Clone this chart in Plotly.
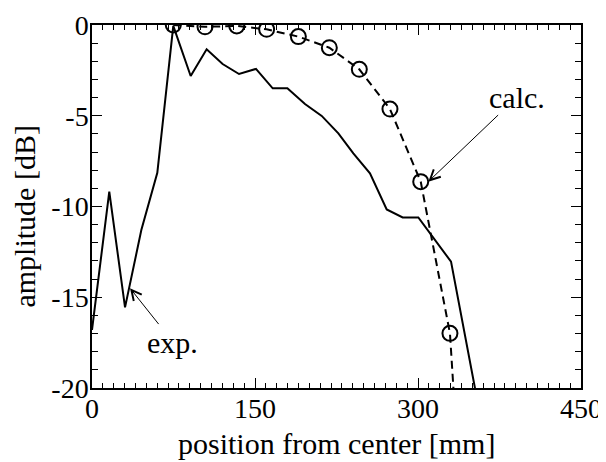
import plotly.graph_objects as go

# experimental data (solid line)
exp_x = [0, 15.9, 30.4, 45.4, 60.1, 74.8, 90.8, 105.5, 120.2, 135.3, 150.9, 166.3, 179.8,
         196.0, 211.4, 226.7, 240.5, 255.8, 271.2, 285.9, 300.3, 315.4, 330.4, 360.0]
exp_y = [-16.8, -9.18, -15.56, -11.3, -8.14, -0.05, -2.81, -1.34, -2.15, -2.7, -2.42, -3.49, -3.49,
         -4.35, -5.01, -5.97, -7.07, -8.17, -10.16, -10.6, -10.6, -11.82, -13.04, -22.4]

# calculated data (dashed line with open circles)
calc_x = [74.8, 104.0, 133.2, 160.7, 189.9, 218.4, 246.0, 274.2, 302.5, 329.4, 358.0]
calc_y = [0.0, -0.1, -0.05, -0.24, -0.64, -1.25, -2.44, -4.63, -8.63, -16.99, -44.0]

x_ticks = [0, 150, 300, 450]
x_labels = ["0", "150", "300", "450"]
y_ticks = [-20, -15, -10, -5, 0]
y_labels = ["-20", "-15", "-10", "-5", "0"]

FONT = "Liberation Serif"

fig = go.Figure()
fig.add_trace(go.Scatter(x=exp_x, y=exp_y, mode="lines",
                         line=dict(color="black", width=2), showlegend=False))
fig.add_trace(go.Scatter(x=calc_x, y=calc_y, mode="lines+markers",
                         line=dict(color="black", width=2, dash="8px,5px"),
                         marker=dict(symbol="circle-open", size=15, color="black",
                                     line=dict(width=2, color="black")),
                         showlegend=False))

axis_common = dict(showline=True, linecolor="black", linewidth=1.5, mirror="allticks",
                   ticks="inside", ticklen=10, tickwidth=1.2, tickcolor="black",
                   showgrid=False, zeroline=False, automargin=False,
                   tickfont=dict(family=FONT, size=28, color="black"))

fig.update_xaxes(range=[0, 450], tickvals=x_ticks, ticktext=x_labels, ticklabelstandoff=-5,
                 minor=dict(dtick=10, ticks="inside", ticklen=5, tickwidth=1, tickcolor="black"),
                 **axis_common)
fig.update_yaxes(range=[-20, 0], tickvals=y_ticks, ticktext=y_labels, ticklabelstandoff=-4,
                 minor=dict(dtick=1, ticks="inside", ticklen=6, tickwidth=1, tickcolor="black"),
                 **axis_common)

# axis titles placed as text so their positions match the reference
fig.add_annotation(text="position from center [mm]", xref="paper", yref="paper",
                   x=0.5, y=-0.102, xanchor="center", yanchor="top", showarrow=False,
                   font=dict(family=FONT, size=30, color="black"))
fig.add_annotation(text="amplitude [dB]", textangle=-90, xref="paper", yref="paper",
                   x=-0.140, y=0.471, xanchor="center", yanchor="middle", showarrow=False,
                   font=dict(family=FONT, size=30, color="black"))

fig.add_annotation(x=309.5, y=-8.63, xref="x", yref="y", ax=391.1, ay=-3.97,
                   axref="x", ayref="y", text="calc.", showarrow=True,
                   arrowhead=5, arrowsize=2, arrowwidth=1, arrowcolor="black",
                   font=dict(family=FONT, size=30, color="black"))
fig.add_annotation(x=35.0, y=-14.5, xref="x", yref="y", ax=74.5, ay=-17.47,
                   axref="x", ayref="y", text="exp.", showarrow=True,
                   arrowhead=5, arrowsize=2, arrowwidth=1, arrowcolor="black",
                   font=dict(family=FONT, size=30, color="black"))

# the page body has an 8px margin, so the figure is made 8px smaller and margins shifted
fig.update_layout(width=598, height=454, margin=dict(l=84, r=25, t=17, b=74),
                  paper_bgcolor="white", plot_bgcolor="white",
                  font=dict(family=FONT, color="black"))

fig.write_html("out.html")
